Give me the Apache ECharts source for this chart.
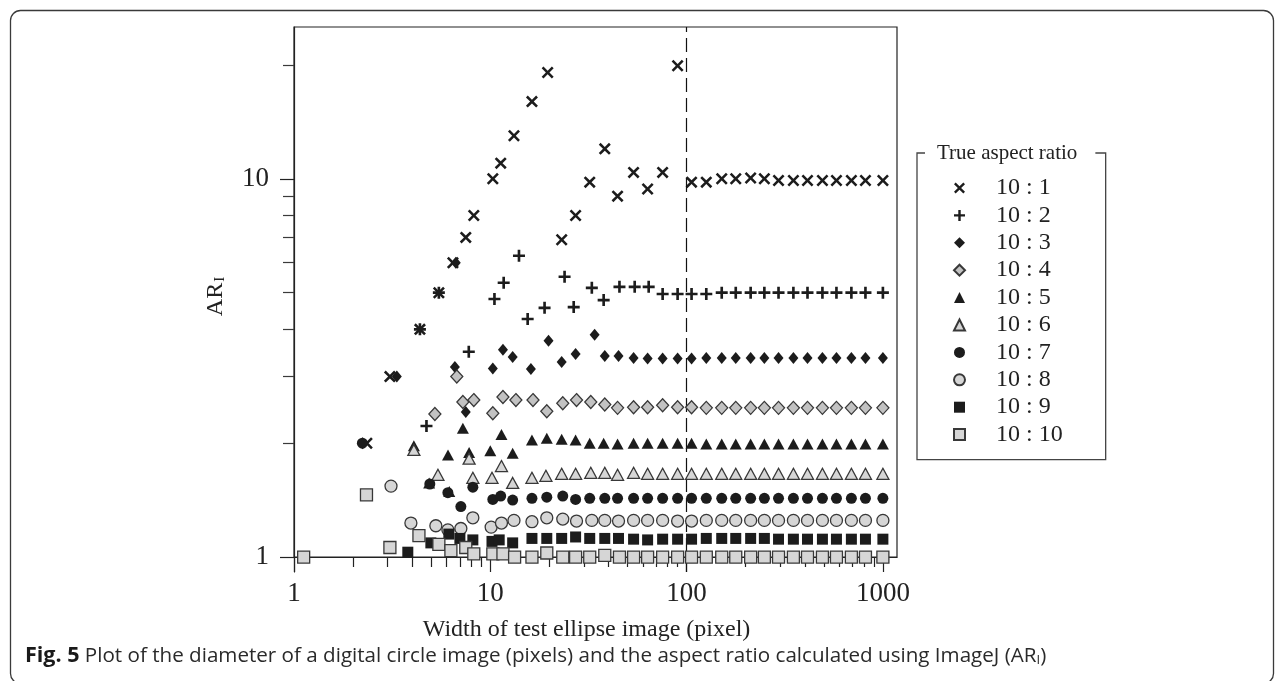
<!DOCTYPE html>
<html>
<head>
<meta charset="utf-8">
<script src="https://cdn.jsdelivr.net/npm/echarts@6/dist/echarts.min.js"></script>
<style>
  html, body { margin: 0; padding: 0; background: #ffffff; }
  #chart { width: 1284px; height: 681px; }
</style>
</head>
<body>
<div id="chart"></div>
<script>
// Measured aspect ratio (AR_I) against the width of the test ellipse image.
const seriesNames = ['10 : 1', '10 : 2', '10 : 3', '10 : 4', '10 : 5',
                     '10 : 6', '10 : 7', '10 : 8', '10 : 9', '10 : 10'];

// Image widths shared by every series above 100 px
const wideWidths = [106, 126, 151, 178, 212, 249, 294, 350, 413, 492, 580, 691, 815, 1000];

// Small images: [width, AR_I]
const small_10_1 = [[2.35, 2.0], [3.08, 3.0], [4.38, 4.0], [5.47, 5.0], [6.45, 6.0], [7.5, 7.0],
  [8.24, 8.0], [10.3, 10.0], [11.3, 11.0], [13.2, 13.0], [16.3, 16.0], [19.6, 19.1], [23.1, 6.9],
  [27.2, 8.0], [32.1, 9.8], [38.3, 12.0], [44.5, 9.0], [53.7, 10.4], [63.3, 9.4], [75.5, 10.4], [90, 19.9]];
const small_10_2 = [[4.38, 4.0], [4.73, 2.22], [5.47, 5.0], [7.77, 3.49], [10.5, 4.81], [11.7, 5.31],
  [14.0, 6.26], [15.5, 4.26], [18.9, 4.56], [23.9, 5.51], [26.6, 4.58], [32.9, 5.15], [37.8, 4.78],
  [45.5, 5.18], [54.4, 5.18], [64.1, 5.18], [75.5, 4.96], [90, 4.96]];
const small_10_3 = [[3.34, 3.0], [6.67, 6.0], [6.6, 3.18], [7.5, 2.42], [10.3, 3.15], [11.6, 3.53],
  [13.0, 3.38], [16.1, 3.14], [19.8, 3.73], [23.1, 3.28], [27.2, 3.44], [34.0, 3.87], [38.3, 3.40],
  [45, 3.40], [53.7, 3.36], [63.3, 3.35], [75.5, 3.35], [90, 3.35]];
const small_10_4 = [[6.75, 3.0], [5.22, 2.39], [7.25, 2.57], [8.24, 2.60], [10.3, 2.40], [11.6, 2.65],
  [13.5, 2.60], [16.5, 2.60], [19.4, 2.43], [23.4, 2.55], [27.5, 2.60], [32.5, 2.57], [38.3, 2.53],
  [44.5, 2.48], [53.7, 2.49], [63.3, 2.49], [75.5, 2.52], [90, 2.49]];
const small_10_5 = [[4.08, 1.97], [4.88, 1.57], [6.09, 1.86], [6.18, 1.49], [7.25, 2.19], [7.8, 1.89],
  [10.0, 1.91], [11.4, 2.11], [13.0, 1.88], [16.3, 2.04], [19.4, 2.06], [23.1, 2.05], [27.2, 2.04],
  [32.1, 2.0], [37.8, 2.0], [44.5, 1.99], [53.7, 2.0], [63.3, 2.0], [75.5, 2.0], [90, 2.0]];
const small_10_6 = [[4.08, 1.92], [5.41, 1.65], [7.8, 1.82], [8.15, 1.62], [10.2, 1.62], [11.4, 1.74],
  [13.0, 1.57], [16.3, 1.62], [19.2, 1.64], [23.1, 1.66], [27.2, 1.66], [32.5, 1.67], [38.3, 1.67],
  [44.5, 1.65], [53.7, 1.67], [63.3, 1.66], [75.5, 1.66], [90, 1.66]];
const small_10_7 = [[2.23, 2.0], [4.92, 1.56], [6.08, 1.48], [7.08, 1.36], [8.15, 1.53], [10.3, 1.42],
  [11.3, 1.45], [13.0, 1.415], [16.3, 1.43], [19.4, 1.44], [23.4, 1.45], [27.2, 1.42], [32.1, 1.43],
  [38.3, 1.43], [44.5, 1.43], [53.7, 1.43], [63.3, 1.43], [75.5, 1.43], [90, 1.43]];
const small_10_8 = [[3.12, 1.54], [3.94, 1.23], [5.28, 1.21], [6.08, 1.18], [7.08, 1.19], [8.15, 1.27],
  [10.1, 1.20], [11.4, 1.23], [13.2, 1.25], [16.3, 1.24], [19.4, 1.27], [23.4, 1.26], [27.5, 1.245],
  [32.9, 1.25], [38.3, 1.25], [45, 1.245], [53.7, 1.25], [63.3, 1.25], [75.5, 1.25], [90, 1.245]];
const small_10_9 = [[3.80, 1.03], [4.98, 1.09], [6.15, 1.15], [7.0, 1.12], [8.15, 1.11], [10.2, 1.10],
  [11.1, 1.11], [13.0, 1.09], [16.3, 1.12], [19.4, 1.12], [23.1, 1.12], [27.2, 1.13], [32.1, 1.12],
  [38.3, 1.12], [45, 1.12], [53.7, 1.115], [63.3, 1.11], [75.5, 1.115], [90, 1.115]];
const small_10_10 = [[1.12, 1.0], [2.34, 1.46], [3.08, 1.06], [4.33, 1.14], [5.47, 1.08], [6.3, 1.04],
  [7.5, 1.06], [8.24, 1.02], [10.3, 1.02], [11.6, 1.02], [13.3, 1.0], [16.3, 1.0], [19.4, 1.025],
  [23.4, 1.0], [27.2, 1.0], [32.1, 1.0], [38.3, 1.01], [45.5, 1.0], [53.7, 1.0], [63.3, 1.0],
  [75.5, 1.0], [90, 1.0]];

// AR_I at the wide image widths
const wide_10_1 = [9.8, 9.8, 10.0, 10.0, 10.05, 10.0, 9.9, 9.9, 9.9, 9.9, 9.9, 9.9, 9.9, 9.9];
const wide_10_2 = [4.96, 4.96, 5.0, 5.0, 5.0, 5.0, 5.0, 5.0, 5.0, 5.0, 5.0, 5.0, 5.0, 5.0];
const wide_10_3 = [3.35, 3.36, 3.36, 3.36, 3.36, 3.36, 3.36, 3.36, 3.36, 3.36, 3.36, 3.36, 3.36, 3.36];
const wide_10_4 = [2.49, 2.48, 2.48, 2.48, 2.48, 2.48, 2.48, 2.48, 2.48, 2.48, 2.48, 2.48, 2.48, 2.48];
const wide_10_5 = [2.0, 1.99, 1.99, 1.99, 1.99, 1.99, 1.99, 1.99, 1.99, 1.99, 1.99, 1.99, 1.99, 1.99];
const wide_10_6 = [1.66, 1.66, 1.66, 1.66, 1.66, 1.66, 1.66, 1.66, 1.66, 1.66, 1.66, 1.66, 1.66, 1.66];
const wide_10_7 = [1.43, 1.43, 1.43, 1.43, 1.43, 1.43, 1.43, 1.43, 1.43, 1.43, 1.43, 1.43, 1.43, 1.43];
const wide_10_8 = [1.245, 1.25, 1.25, 1.25, 1.25, 1.25, 1.25, 1.25, 1.25, 1.25, 1.25, 1.25, 1.25, 1.25];
const wide_10_9 = [1.115, 1.12, 1.12, 1.12, 1.12, 1.12, 1.115, 1.115, 1.115, 1.115, 1.115, 1.115, 1.115, 1.115];
const wide_10_10 = [1.0, 1.0, 1.0, 1.0, 1.0, 1.0, 1.0, 1.0, 1.0, 1.0, 1.0, 1.0, 1.0, 1.0];

// Axis ticks
const xMajorTicks = [1, 10, 100, 1000];
const xMinorTicks = [2, 3, 4, 5, 6, 7, 8, 9, 20, 30, 40, 50, 60, 70, 80, 90,
                     200, 300, 400, 500, 600, 700, 800, 900];
const yMajorTicks = [1, 10];
const yMinorTicks = [2, 3, 4, 5, 6, 7, 8, 9, 20];
const xRange = [1, 1180];
const yRange = [0.913, 25.2];
const cutoffWidth = 100;

const smallSets = [small_10_1, small_10_2, small_10_3, small_10_4, small_10_5,
                   small_10_6, small_10_7, small_10_8, small_10_9, small_10_10];
const wideSets = [wide_10_1, wide_10_2, wide_10_3, wide_10_4, wide_10_5,
                  wide_10_6, wide_10_7, wide_10_8, wide_10_9, wide_10_10];

const SERIF = '"Liberation Serif", "Times New Roman", serif';
const INK = '#1c1c1c';
const EDGE = '#383838';
const CROSS = 'path://M0,1.5L1.5,0L5,3.5L8.5,0L10,1.5L6.5,5L10,8.5L8.5,10L5,6.5L1.5,10L0,8.5L3.5,5Z';
const PLUS = 'path://M3.9,0H6.1V3.9H10V6.1H6.1V10H3.9V6.1H0V3.9H3.9Z';

const markerStyles = [
  { symbol: CROSS, size: 12, fill: INK },
  { symbol: PLUS, size: 12, fill: INK },
  { symbol: 'diamond', size: [10, 12], fill: INK },
  { symbol: 'diamond', size: [12, 13], fill: '#c2c2c2', stroke: EDGE },
  { symbol: 'triangle', size: [12, 11], fill: INK },
  { symbol: 'triangle', size: [12, 11], fill: '#d6d6d6', stroke: EDGE },
  { symbol: 'circle', size: 11, fill: INK },
  { symbol: 'circle', size: 12, fill: '#d6d6d6', stroke: EDGE },
  { symbol: 'rect', size: 11, fill: INK },
  { symbol: 'rect', size: 12, fill: '#d6d6d6', stroke: EDGE }
];

const series = seriesNames.map((name, i) => {
  const st = markerStyles[i];
  const data = smallSets[i].concat(wideWidths.map((w, k) => [w, wideSets[i][k]]));
  const s = {
    name: name,
    type: 'scatter',
    xAxisIndex: 0,
    yAxisIndex: 0,
    data: data,
    symbol: st.symbol,
    symbolSize: st.size,
    itemStyle: {
      color: st.fill,
      borderColor: st.stroke || st.fill,
      borderWidth: st.stroke ? 1.3 : 0,
      opacity: 1
    },
    emphasis: { disabled: true },
    z: 3 + i
  };
  if (i === 0) {
    s.markLine = {
      silent: true,
      symbol: 'none',
      label: { show: false },
      lineStyle: { type: [14, 6], color: '#111', width: 1.2 },
      data: [{ xAxis: cutoffWidth }]
    };
  }
  return s;
});

const axisColor = '#222';
const plainNumber = (v) => String(Math.round(v));

const logX = (extra) => Object.assign({
  type: 'log', logBase: 10, min: xRange[0], max: xRange[1],
  gridIndex: 0, position: 'bottom', offset: -15,
  splitLine: { show: false }, minorTick: { show: false }, minorSplitLine: { show: false }
}, extra);
const logY = (extra) => Object.assign({
  type: 'log', logBase: 10, min: yRange[0], max: yRange[1],
  gridIndex: 0, position: 'left',
  splitLine: { show: false }, minorTick: { show: false }, minorSplitLine: { show: false }
}, extra);

const option = {
  animation: false,
  backgroundColor: '#ffffff',
  tooltip: { show: false },
  grid: [
    { left: 294, right: 387, top: 27, bottom: 109, outerBoundsMode: 'none', containLabel: false },
    { left: 294, right: 387, top: 27, bottom: 124, outerBoundsMode: 'none', containLabel: false,
      show: true, borderColor: axisColor, borderWidth: 1.2, backgroundColor: 'transparent' }
  ],
  xAxis: [
    logX({
      axisLine: { show: true, onZero: false, lineStyle: { color: axisColor, width: 1.2 } },
      axisTick: { show: true, inside: false, length: 15, customValues: xMajorTicks,
                  lineStyle: { color: axisColor, width: 1.2 } },
      axisLabel: { show: true, margin: 23, customValues: xMajorTicks, formatter: plainNumber,
                   fontFamily: SERIF, fontSize: 27, color: axisColor },
      name: 'Width of test ellipse image (pixel)',
      nameLocation: 'middle', nameGap: 61,
      nameTextStyle: { fontFamily: SERIF, fontSize: 24, color: axisColor, padding: [0, 18, 0, 0] }
    }),
    logX({
      axisLine: { show: false, onZero: false },
      axisTick: { show: true, inside: false, length: 10, customValues: xMinorTicks,
                  lineStyle: { color: axisColor, width: 1.2 } },
      axisLabel: { show: false }
    }),
    { type: 'value', gridIndex: 1, show: false }
  ],
  yAxis: [
    logY({
      axisLine: { show: true, onZero: false, lineStyle: { color: axisColor, width: 1.2 } },
      axisTick: { show: true, inside: false, length: 14, customValues: yMajorTicks,
                  lineStyle: { color: axisColor, width: 1.2 } },
      axisLabel: { show: true, margin: 25, customValues: yMajorTicks, formatter: plainNumber,
                   fontFamily: SERIF, fontSize: 27, color: axisColor },
      name: 'AR{sub|I}',
      nameLocation: 'middle', nameGap: 66,
      nameTextStyle: {
        fontFamily: SERIF, fontSize: 24, color: axisColor, padding: [0, 0, 0, 6],
        rich: { sub: { fontFamily: SERIF, fontSize: 15, color: axisColor, verticalAlign: 'bottom', padding: [0, 0, 0, 1] } }
      }
    }),
    logY({
      axisLine: { show: false, onZero: false },
      axisTick: { show: true, inside: false, length: 11, customValues: yMinorTicks,
                  lineStyle: { color: '#3a3a3a', width: 1.2 } },
      axisLabel: { show: false }
    }),
    { type: 'value', gridIndex: 1, show: false }
  ],
  legend: {
    orient: 'vertical',
    left: 917, top: 153,
    padding: [23, 43, 13, 36],
    itemWidth: 11, itemHeight: 11, itemGap: 3.4,
    borderColor: '#444', borderWidth: 1.3,
    selectedMode: false,
    textStyle: { fontFamily: SERIF, fontSize: 24, color: axisColor, lineHeight: 24, padding: [0, 0, 0, 26] },
    data: seriesNames
  },
  graphic: [
    {
      type: 'rect', silent: true, z: 0,
      shape: { x: 10.5, y: 10.5, width: 1263, height: 673, r: 10 },
      style: { fill: 'none', stroke: '#3a3a3a', lineWidth: 1.3 }
    },
    {
      type: 'text', left: 925, top: 141, z: 50, silent: true,
      style: {
        text: 'True aspect ratio',
        font: '21px "Liberation Serif", serif',
        fill: axisColor,
        backgroundColor: '#ffffff',
        padding: [2, 18, 2, 12]
      }
    },
    {
      type: 'text', left: 25, top: 645, z: 50, silent: true,
      style: {
        text: '{b|Fig. 5} Plot of the diameter of a digital circle image (pixels) and the aspect ratio calculated using ImageJ (AR{s|I})',
        font: '20.6px "Open Sans", sans-serif',
        fill: '#2a2a2a',
        rich: {
          b: { font: 'bold 21.5px "Open Sans", sans-serif', fill: '#1a1a1a' },
          s: { font: '13px "Open Sans", sans-serif', fill: '#2a2a2a', verticalAlign: 'bottom', padding: [7, 0, 0, 0] }
        }
      }
    }
  ],
  series: series
};

const chart = echarts.init(document.getElementById('chart'), null, { renderer: 'canvas' });
chart.setOption(option);
</script>
</body>
</html>
